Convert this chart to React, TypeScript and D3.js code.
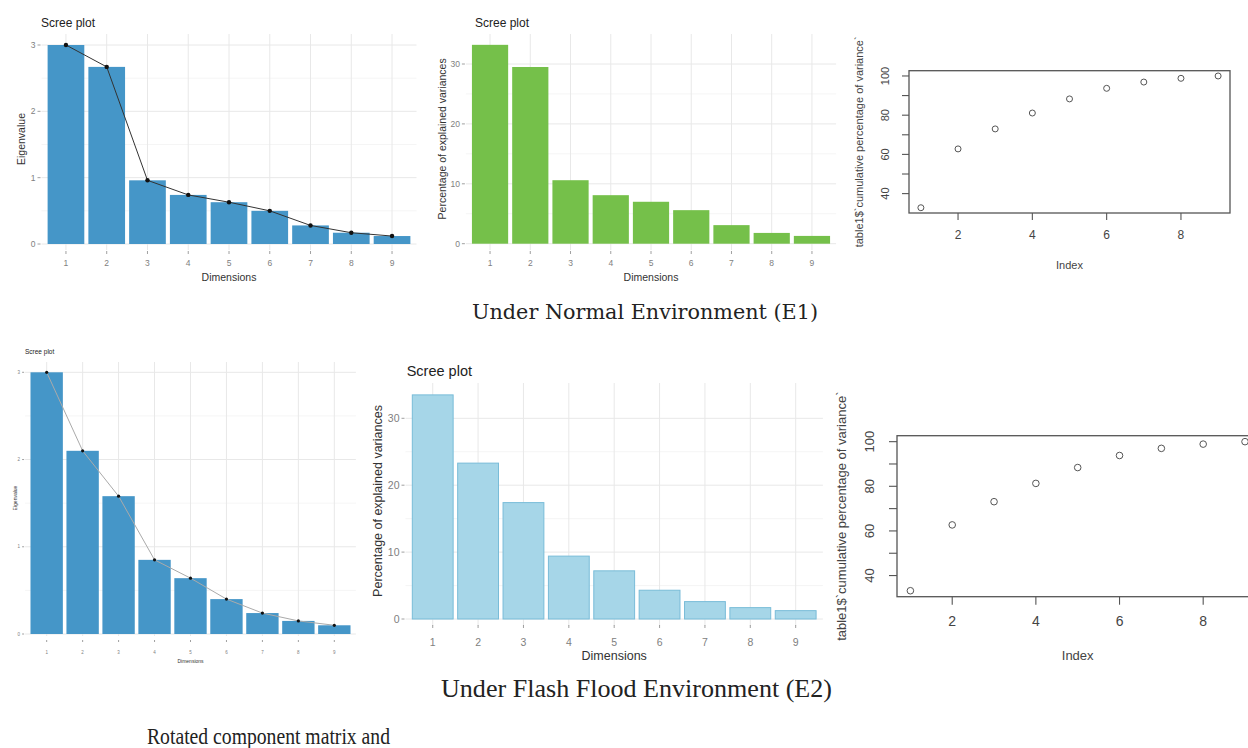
import React, { useEffect, useRef } from "react";
import * as d3 from "d3";

// dimensions 1..9 shared by every panel
const dims = ["1", "2", "3", "4", "5", "6", "7", "8", "9"];
const indexVals = [1, 2, 3, 4, 5, 6, 7, 8, 9];

// Normal environment (E1)
const eigE1 = [3.0, 2.67, 0.96, 0.74, 0.63, 0.5, 0.28, 0.17, 0.12];
const pctE1 = [33.2, 29.5, 10.6, 8.1, 7.0, 5.6, 3.1, 1.8, 1.3];
const cumE1 = [32.8, 62.8, 73.0, 81.1, 88.3, 93.7, 96.9, 98.8, 100];

// Flash flood environment (E2)
const eigE2 = [3.0, 2.1, 1.58, 0.85, 0.64, 0.4, 0.24, 0.15, 0.1];
const pctE2 = [33.5, 23.3, 17.4, 9.4, 7.2, 4.3, 2.6, 1.7, 1.25];
const cumE2 = [33.2, 62.7, 73.1, 81.3, 88.4, 93.8, 97.0, 98.9, 100];

const eigTicks = [0, 1, 2, 3];
const eigMinor = [0.5, 1.5, 2.5];
const pctTicks = [0, 10, 20, 30];
const pctMinor = [5, 15, 25];
const cumLabels = [40, 60, 80, 100];
const cumTicks = [40, 50, 60, 70, 80, 90, 100];
const indexTicks = [2, 4, 6, 8];

const SANS = "'Liberation Sans', Arial, sans-serif";
const SERIF = "'Liberation Serif', 'Times New Roman', serif";
const WIDE_SERIF = "'DejaVu Serif', serif";

function scree(svg: any, c: any) {
  const g = svg.append("g");
  const x = d3.scaleBand<string>()
    .domain(dims)
    .range([c.left, c.right])
    .paddingInner(0.1)
    .paddingOuter(0.15);
  const y = d3.scaleLinear()
    .domain([0, c.ticks[c.ticks.length - 1]])
    .range([c.zero, c.topTick]);

  // grid
  g.selectAll(".minor").data(c.minor).enter().append("line")
    .attr("x1", c.left).attr("x2", c.right)
    .attr("y1", (d: number) => y(d)).attr("y2", (d: number) => y(d))
    .attr("stroke", "#f3f3f3").attr("stroke-width", 0.8);
  g.selectAll(".major").data(c.ticks).enter().append("line")
    .attr("x1", c.left).attr("x2", c.right)
    .attr("y1", (d: number) => y(d)).attr("y2", (d: number) => y(d))
    .attr("stroke", "#e8e8e8").attr("stroke-width", 1);
  g.selectAll(".vgrid").data(dims).enter().append("line")
    .attr("x1", (d: string) => x(d)! + x.bandwidth() / 2)
    .attr("x2", (d: string) => x(d)! + x.bandwidth() / 2)
    .attr("y1", c.gridTop).attr("y2", c.gridBottom)
    .attr("stroke", "#e8e8e8").attr("stroke-width", 1);

  // bars
  g.selectAll(".bar").data(c.values).enter().append("rect")
    .attr("x", (_: number, i: number) => x(dims[i])!)
    .attr("width", x.bandwidth())
    .attr("y", (d: number) => y(d))
    .attr("height", (d: number) => y(0) - y(d))
    .attr("fill", c.fill)
    .attr("stroke", c.stroke || "none")
    .attr("stroke-width", c.stroke ? 1 : 0);

  // scree line
  if (c.line) {
    const line = d3.line<number>()
      .x((_, i) => x(dims[i])! + x.bandwidth() / 2)
      .y((d) => y(d));
    g.append("path").datum(c.values)
      .attr("d", line)
      .attr("fill", "none")
      .attr("stroke", c.lineColor)
      .attr("stroke-width", c.lineWidth);
    g.selectAll(".pt").data(c.values).enter().append("circle")
      .attr("cx", (_: number, i: number) => x(dims[i])! + x.bandwidth() / 2)
      .attr("cy", (d: number) => y(d))
      .attr("r", c.pointR)
      .attr("fill", "#111");
  }

  // y axis
  g.selectAll(".ytick").data(c.ticks).enter().append("line")
    .attr("x1", c.left - c.tickLen - 1).attr("x2", c.left - 1)
    .attr("y1", (d: number) => y(d)).attr("y2", (d: number) => y(d))
    .attr("stroke", "#888").attr("stroke-width", 0.8);
  g.selectAll(".ylab").data(c.ticks).enter().append("text")
    .attr("x", c.left - c.tickLen - 3)
    .attr("y", (d: number) => y(d))
    .attr("dy", "0.35em")
    .attr("text-anchor", "end")
    .attr("font-size", c.tickSize)
    .attr("fill", "#808080")
    .text((d: number) => d);

  // x axis
  g.selectAll(".xtick").data(dims).enter().append("line")
    .attr("x1", (d: string) => x(d)! + x.bandwidth() / 2)
    .attr("x2", (d: string) => x(d)! + x.bandwidth() / 2)
    .attr("y1", c.xTickY).attr("y2", c.xTickY + c.tickLen)
    .attr("stroke", "#888").attr("stroke-width", 0.8);
  g.selectAll(".xlab").data(dims).enter().append("text")
    .attr("x", (d: string) => x(d)! + x.bandwidth() / 2)
    .attr("y", c.xLabY)
    .attr("text-anchor", "middle")
    .attr("font-size", c.tickSize)
    .attr("fill", "#808080")
    .text((d: string) => d);

  // titles
  g.append("text")
    .attr("x", (c.left + c.right) / 2)
    .attr("y", c.xTitleY)
    .attr("text-anchor", "middle")
    .attr("font-size", c.axisSize)
    .attr("fill", "#333")
    .text("Dimensions");
  g.append("text")
    .attr("transform", `translate(${c.yTitleX},${(c.gridTop + c.zero) / 2}) rotate(-90)`)
    .attr("text-anchor", "middle")
    .attr("font-size", c.axisSize)
    .attr("fill", "#333")
    .text(c.ylabel);
  g.append("text")
    .attr("x", c.titleX)
    .attr("y", c.titleY)
    .attr("font-size", c.titleSize)
    .attr("fill", "#222")
    .text("Scree plot");
}

function cumPlot(svg: any, c: any) {
  const g = svg.append("g");
  const lo = d3.min(c.values as number[])!;
  const hi = d3.max(c.values as number[])!;
  const ext = 0.04 * (hi - lo);
  const x = d3.scaleLinear().domain([1 - 0.32, 9 + 0.32]).range([c.left, c.right]);
  const y = d3.scaleLinear().domain([lo - ext, hi + ext]).range([c.bottom, c.top]);
  const col = "#555";

  g.append("rect")
    .attr("x", c.left).attr("y", c.top)
    .attr("width", c.right - c.left).attr("height", c.bottom - c.top)
    .attr("fill", "none").attr("stroke", col).attr("stroke-width", 1.3);

  g.selectAll(".pt").data(c.values).enter().append("circle")
    .attr("cx", (_: number, i: number) => x(indexVals[i]))
    .attr("cy", (d: number) => y(d))
    .attr("r", c.r)
    .attr("fill", "none")
    .attr("stroke", col)
    .attr("stroke-width", 1);

  g.selectAll(".xt").data(indexTicks).enter().append("line")
    .attr("x1", (d: number) => x(d)).attr("x2", (d: number) => x(d))
    .attr("y1", c.bottom).attr("y2", c.bottom + c.tickLen)
    .attr("stroke", col).attr("stroke-width", 1.1);
  g.selectAll(".xl").data(indexTicks).enter().append("text")
    .attr("x", (d: number) => x(d))
    .attr("y", c.bottom + c.xLabOff)
    .attr("text-anchor", "middle")
    .attr("font-size", c.fontSize + 1)
    .attr("fill", "#444")
    .text((d: number) => d);

  g.selectAll(".yt").data(cumTicks).enter().append("line")
    .attr("x1", c.left - c.tickLen).attr("x2", c.left)
    .attr("y1", (d: number) => y(d)).attr("y2", (d: number) => y(d))
    .attr("stroke", col).attr("stroke-width", 1.1);
  g.selectAll(".yl").data(cumLabels).enter().append("text")
    .attr("transform", (d: number) => `translate(${c.left - c.yLabOff},${y(d)}) rotate(-90)`)
    .attr("text-anchor", "middle")
    .attr("font-size", c.fontSize)
    .attr("fill", "#444")
    .text((d: number) => d);

  g.append("text")
    .attr("x", (c.left + c.right) / 2)
    .attr("y", c.bottom + c.indexOff)
    .attr("text-anchor", "middle")
    .attr("font-size", c.fontSize)
    .attr("fill", "#444")
    .text("Index");
  g.append("text")
    .attr("transform", `translate(${c.yTitleX},${(c.top + c.bottom) / 2}) rotate(-90)`)
    .attr("text-anchor", "middle")
    .attr("font-size", c.fontSize)
    .attr("fill", "#444")
    .text("table1$`cumulative percentage of variance`");
}

export default function App() {
  const ref = useRef<SVGSVGElement>(null);

  useEffect(() => {
    const svg = d3.select(ref.current);
    svg.selectAll("*").remove();
    svg.append("rect").attr("width", 1248).attr("height", 748).attr("fill", "#fff");

    // E1 eigenvalues
    scree(svg, {
      values: eigE1, ticks: eigTicks, minor: eigMinor,
      left: 41.5, right: 416.5, zero: 244, topTick: 45, gridTop: 34, gridBottom: 250,
      fill: "#4596c8", line: true, lineColor: "#333", lineWidth: 1, pointR: 2.2,
      tickLen: 3, tickSize: 8.5, axisSize: 10.5, titleSize: 12,
      xTickY: 251, xLabY: 266, xTitleY: 281, yTitleX: 25,
      titleX: 41, titleY: 26.5, ylabel: "Eigenvalue",
    });
    // E1 percentages
    scree(svg, {
      values: pctE1, ticks: pctTicks, minor: pctMinor,
      left: 465.9, right: 836.1, zero: 243.7, topTick: 64, gridTop: 34, gridBottom: 250,
      fill: "#75c04a", line: false,
      tickLen: 3, tickSize: 8.5, axisSize: 10.5, titleSize: 12,
      xTickY: 251, xLabY: 266, xTitleY: 281, yTitleX: 446,
      titleX: 475, titleY: 26.5, ylabel: "Percentage of explained variances",
    });
    cumPlot(svg, {
      values: cumE1, left: 909, right: 1230, top: 70.7, bottom: 213,
      r: 3, tickLen: 7, xLabOff: 26, indexOff: 56, yLabOff: 20, yTitleX: 863, fontSize: 11,
    });

    // E2 eigenvalues
    scree(svg, {
      values: eigE2, ticks: eigTicks, minor: eigMinor,
      left: 25.1, right: 355.9, zero: 634, topTick: 372.3, gridTop: 362, gridBottom: 636,
      fill: "#4596c8", line: true, lineColor: "#aaa", lineWidth: 1, pointR: 1.6,
      tickLen: 2, tickSize: 4.5, axisSize: 5, titleSize: 6.5,
      xTickY: 640, xLabY: 653.5, xTitleY: 663, yTitleX: 17,
      titleX: 25, titleY: 354, ylabel: "Eigenvalue",
    });
    // E2 percentages
    scree(svg, {
      values: pctE2, ticks: pctTicks, minor: pctMinor,
      left: 405.5, right: 822.9, zero: 619, topTick: 418.3, gridTop: 383, gridBottom: 626,
      fill: "#a6d6e8", stroke: "#79bcd8", line: false,
      tickLen: 3, tickSize: 10.5, axisSize: 12.5, titleSize: 14.5,
      xTickY: 625, xLabY: 645.5, xTitleY: 659.5, yTitleX: 382,
      titleX: 406.7, titleY: 375.5, ylabel: "Percentage of explained variances",
    });
    cumPlot(svg, {
      values: cumE2, left: 897, right: 1258.4, top: 435.7, bottom: 596.7,
      r: 3.3, tickLen: 8, xLabOff: 29.5, indexOff: 63, yLabOff: 23.5, yTitleX: 846, fontSize: 13,
    });

    // captions
    const cap = (t: string, xPos: number, yPos: number, len: number, size: number, fam: string) =>
      svg.append("text")
        .attr("x", xPos).attr("y", yPos)
        .attr("font-family", fam)
        .attr("font-size", size)
        .attr("fill", "#222")
        .attr("textLength", len)
        .attr("lengthAdjust", "spacingAndGlyphs")
        .text(t);
    cap("Under Normal Environment (E1)", 472, 319, 346, 19.5, WIDE_SERIF);
    cap("Under Flash Flood Environment (E2)", 441, 697, 391, 25, SERIF);
    cap("Rotated component matrix and", 147, 744, 243, 24, SERIF);
  }, []);

  return (
    <div style={{ position: "absolute", left: 0, top: 0 }}>
      <svg ref={ref} width={1248} height={748} style={{ display: "block", fontFamily: SANS }} />
    </div>
  );
}
